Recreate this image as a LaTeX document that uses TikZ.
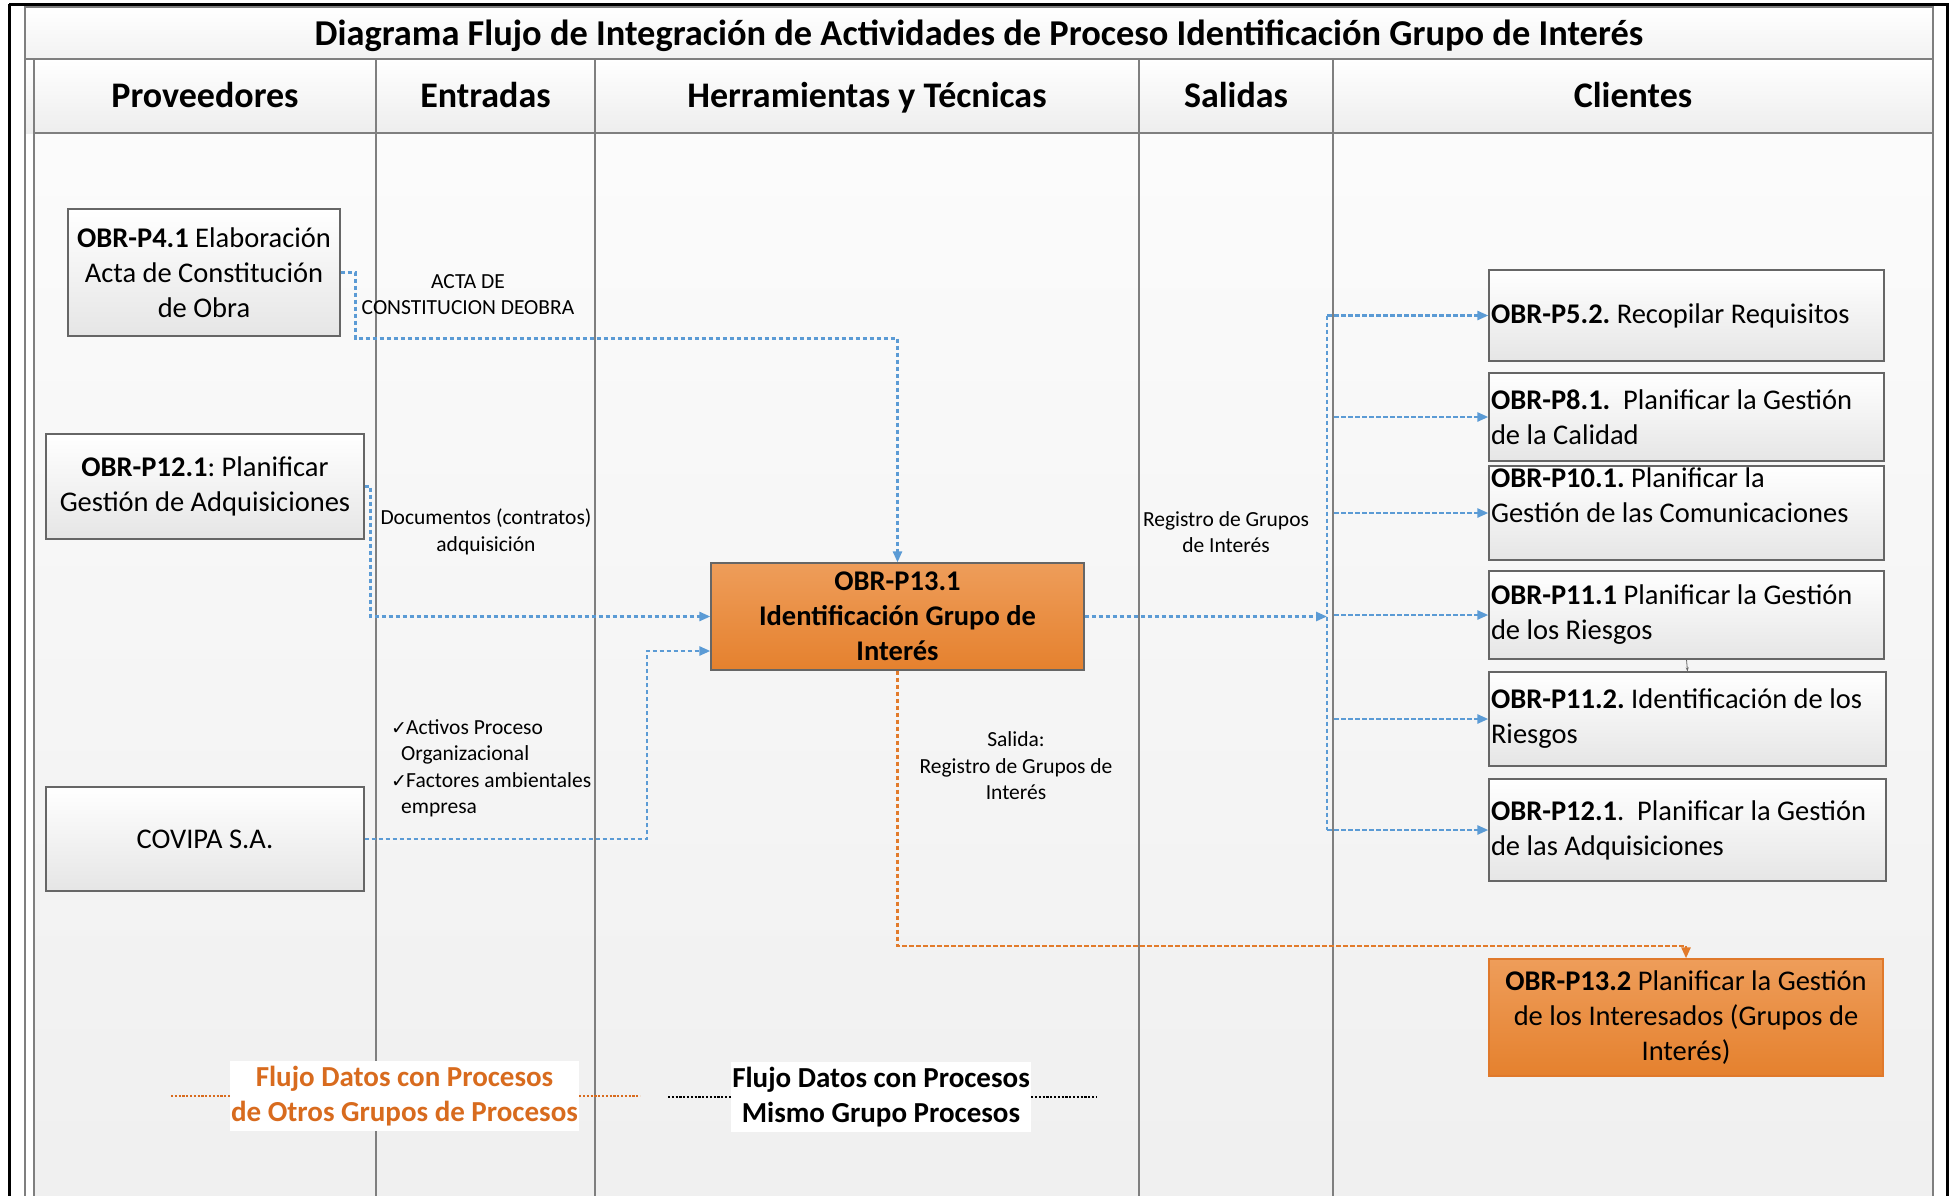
\documentclass[tikz,border=0pt]{standalone}
\usepackage{fontspec}
\setmainfont{Carlito}
\newfontfamily\chkfont{DejaVu Sans}
\usetikzlibrary{arrows.meta}
\definecolor{flowblue}{HTML}{5B9BD5}
\definecolor{floworange}{HTML}{E27B2B}
\definecolor{ortop}{HTML}{EE9D5A}
\definecolor{orbot}{HTML}{E5812E}
\definecolor{orborder}{HTML}{E0792B}
\definecolor{legorange}{HTML}{D86B1E}
\definecolor{gridgray}{HTML}{7F7F7F}
\definecolor{boxgray}{HTML}{666666}
\newcommand\fBox{\fontsize{28.5}{35}\selectfont}
\newcommand\fLab{\fontsize{21.5}{26.5}\selectfont}
\newcommand\fHead{\fontsize{36}{44}\selectfont}
\newcommand\fLeg{\fontsize{29}{35}\selectfont}
\newcommand\chk{\makebox[15pt][l]{\chkfont\fontsize{19}{19}\selectfont ✓}}
\begin{document}
\frenchspacing
\begin{tikzpicture}[x=1pt,y=-1pt,
  grid/.style={gridgray,line width=1.6pt},
  graybox/.style={draw=boxgray,line width=1.3pt,top color=white,bottom color=black!10,inner sep=2pt,font=\fBox},
  lbox/.style={graybox,align=center},
  rbox/.style={graybox,align=flush left,text width=#1},
  orbox/.style={top color=ortop,bottom color=orbot,line width=1.3pt,inner sep=2pt,font=\fBox,align=center},
  flow/.style={flowblue,line width=2.5pt,dash pattern=on 4.5pt off 2.5pt,-{Triangle[length=11pt,width=9pt]}},
  busline/.style={flowblue,line width=2.5pt,dash pattern=on 4.5pt off 2.5pt},
  oflow/.style={floworange,line width=2.5pt,dash pattern=on 4.5pt off 2.5pt,-{Triangle[length=11pt,width=9pt]}},
  lab/.style={font=\fLab,align=center,inner sep=0pt},
  head/.style={font=\fHead\bfseries,inner sep=0pt,anchor=base},
  legbox/.style={fill=white,font=\fLeg\bfseries,align=center,inner sep=0pt},
  legdot/.style={line width=2.8pt,dash pattern=on 2.2pt off 1.6pt},
]
\useasboundingbox (0,0) rectangle (1952,1195);
\fill[white] (0,0) rectangle (1952,1195);
% table
\shade[top color=white,bottom color=black!5] (25,7) rectangle (1933,59);
\shade[top color=white,bottom color=black!7] (25,59) rectangle (1933,133);
\shade[top color=black!1.5,bottom color=black!6] (34,133) rectangle (1933,1195);
\draw[grid] (25,7) rectangle (1933,59);
\draw[grid] (34,133) -- (1933,133);
\draw[grid] (25,7) -- (25,1200);
\foreach \cx in {34,376,595,1139,1333} {\draw[grid] (\cx,59) -- (\cx,1200);}
\draw[grid] (1933,7) -- (1933,1200);
\draw[black,line width=3pt] (9,4) -- (1947,4) -- (1947,1200);
\draw[black,line width=3pt] (9,4) -- (9,1200);
% titles
\node[head] (title) at (979,45) {\fontsize{36.4}{44}\selectfont Diagrama Flujo de Integración de Actividades de Proceso Identificación Grupo de Interés};
\node[head] (hprov) at (205,107.5) {Proveedores};
\node[head] (hent) at (485.5,107.5) {Entradas};
\node[head] (hherr) at (867,107.5) {Herramientas y Técnicas};
\node[head] (hsal) at (1236,107.5) {Salidas};
\node[head] (hcli) at (1633,107.5) {Clientes};
% left boxes
\node[lbox,minimum width=272pt,minimum height=127pt] (p41) at (204,272.5) {\textbf{OBR-P4.1} Elaboración\\Acta de Constitución\\de Obra};
\node[lbox,minimum width=318pt,minimum height=105pt] (p12l) at (205,486.5) {\textbf{OBR-P12.1}: Planificar\\Gestión de Adquisiciones};
\node[lbox,minimum width=318pt,minimum height=104pt] (covipa) at (205,839) {COVIPA S.A.};
% central
\node[orbox,draw=boxgray,minimum width=373pt,minimum height=107pt] (p131) at (897.5,616.5) {\textbf{OBR-P13.1}\\\textbf{Identificación Grupo de}\\\textbf{Interés}};
% right boxes
\node[rbox=391pt,minimum height=91pt] (p52) at (1686.5,315.5) {\textbf{OBR-P5.2.} Recopilar Requisitos};
\node[rbox=391pt,minimum height=88pt] (p81) at (1686.5,417) {\textbf{OBR-P8.1.}\ \ Planificar la Gestión\\de la Calidad};
\node[rbox=391pt,minimum height=92pt] (p101) at (1686.5,513) {\textbf{OBR-P10.1.} Planificar la\\Gestión de las Comunicaciones\\\mbox{}};
\node[rbox=391pt,minimum height=88pt] (p111) at (1686.5,615) {\textbf{OBR-P11.1} Planificar la Gestión\\de los Riesgos};
\node[rbox=393pt,minimum height=94pt] (p112) at (1687.5,719) {\textbf{OBR-P11.2.} Identificación de los\\Riesgos};
\node[rbox=393pt,minimum height=102pt] (p12r) at (1687.5,830) {\textbf{OBR-P12.1}.\ \ Planificar la Gestión\\de las Adquisiciones};
\node[orbox,draw=orborder,minimum width=394pt,minimum height=117pt] (p132) at (1686,1017.5) {\textbf{OBR-P13.2} Planificar la Gestión\\de los Interesados (Grupos de\\Interés)};
% labels
\node[lab] (lacta) at (468,294.5) {ACTA DE\\CONSTITUCION DEOBRA};
\node[lab] (ldoc) at (486,532) {Documentos (contratos)\\adquisición};
\node[lab] (lreg) at (1226,532) {Registro de Grupos\\de Interés};
\node[lab,align=left,anchor=west] (lact) at (391,768.5) {\chk Activos Proceso\\\hspace*{10pt}Organizacional\\\chk Factores ambientales\\\hspace*{10pt}empresa};
\node[lab] (lsal) at (1016,766) {Salida:\\Registro de Grupos de\\Interés};
% connectors
\draw[flow] (p41.east) -- ++(15,0) -- ++(0,66) -| (p131.north);
\draw[flow] (p12l.east) -- ++(6,0) |- (p131.west);
\draw[flow] (covipa.east) -- (647,839) -- (647,651) -- (p131.west |- 0,651);
\coordinate (bus) at (1327,616.5);
\draw[flow] (p131.east) -- (bus);
\draw[busline] (p52.west -| bus) -- (p12r.west -| bus);
\draw[flow] (p52.west -| bus) -- (p52.west);
\draw[flow] (p81.west -| 1334,0) -- (p81.west);
\draw[flow] (p101.west -| 1334,0) -- (p101.west);
\draw[flow] (p111.west -| 1334,0) -- (p111.west);
\draw[flow] (p112.west -| 1334,0) -- (p112.west);
\draw[flow] (p12r.west -| bus) -- (p12r.west);
\draw[oflow] (p131.south) -- (897.5,946) -| (p132.north);
\draw[boxgray,line width=0.8pt,-{Stealth[length=4pt,width=3pt]}] (p111.south) -- (p112.north);
% legend
\node[legbox,text=legorange,minimum width=349pt,minimum height=70pt] (leg1) at (404.5,1096) {Flujo Datos con Procesos\\de Otros Grupos de Procesos};
\coordinate (l1a) at (171,1096);
\coordinate (l1b) at (640,1096);
\draw[legdot,legorange] (l1a) -- (leg1.west);
\draw[legdot,legorange] (leg1.east) -- (l1b);
\node[legbox,text=black,minimum width=300pt,minimum height=70pt] (leg2) at (881,1097) {Flujo Datos con Procesos\\Mismo Grupo Procesos};
\coordinate (l2a) at (668,1097);
\coordinate (l2b) at (1096,1097);
\draw[legdot,black] (l2a) -- (leg2.west);
\draw[legdot,black] (leg2.east) -- (l2b);
\end{tikzpicture}
\end{document}
